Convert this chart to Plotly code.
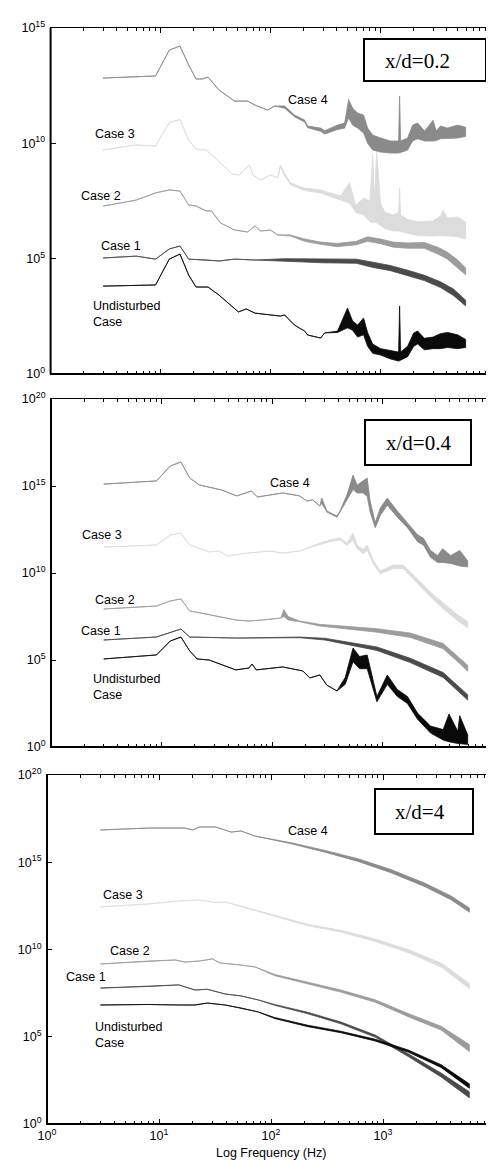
import plotly.graph_objects as go

# ---------------- data: (frequency Hz, log10 PSD upper, log10 PSD lower) ----------------
# Panel x/d = 0.2
P1_CASE4 = [(3, 12.83, 12.83), (9, 12.92, 12.92), (12, 14.04, 14.04), (15, 14.22, 14.22), (18, 13.39, 13.39),
            (21, 12.79, 12.79), (24, 12.79, 12.79), (27, 12.87, 12.87), (34, 12.31, 12.31), (47, 11.83, 11.83),
            (62, 11.83, 11.83), (72, 11.66, 11.66), (94, 11.44, 11.44), (109, 11.62, 11.62), (134, 11.62, 11.52),
            (165, 11.23, 11.15), (204, 11.01, 10.92), (217, 10.75, 10.68), (285, 10.66, 10.52), (310, 10.55, 10.40),
            (406, 10.79, 10.60), (471, 10.88, 10.66), (512, 11.90, 11.10), (556, 11.53, 10.79), (618, 11.31, 10.66),
            (700, 11.23, 10.45), (762, 10.66, 10.00), (846, 10.36, 9.71), (1000, 10.23, 9.62), (1233, 10.10, 9.58),
            (1458, 10.10, 9.58), (1489, 12.05, 9.58), (1520, 10.10, 9.60), (1760, 10.23, 9.71), (1954, 10.79, 10.10),
            (2170, 10.88, 10.20), (2512, 10.53, 10.10), (3000, 11.00, 10.10), (3200, 10.55, 10.12), (3510, 10.75, 10.20),
            (4064, 10.66, 10.20), (5012, 10.79, 10.23), (5929, 10.70, 10.30)]
P1_CASE3 = [(3, 9.71, 9.71), (6, 9.93, 9.93), (9, 9.88, 9.88), (12, 10.90, 10.90), (15, 11.03, 11.03),
            (18, 10.14, 10.14), (21, 9.75, 9.75), (26, 9.71, 9.71), (35, 9.15, 9.15), (45, 8.67, 8.67),
            (52, 8.63, 8.63), (58, 8.84, 8.84), (64, 9.06, 9.06), (69, 8.63, 8.63), (81, 8.41, 8.41),
            (100, 8.63, 8.63), (116, 8.50, 8.50), (123, 9.06, 9.00), (134, 8.71, 8.60), (152, 8.28, 8.20),
            (204, 8.06, 7.95), (285, 7.98, 7.85), (351, 7.85, 7.70), (433, 7.72, 7.55), (523, 8.30, 7.40),
            (593, 7.30, 7.00), (700, 7.63, 6.90), (800, 7.50, 6.60), (846, 9.49, 6.55), (880, 7.60, 6.60),
            (920, 9.70, 6.55), (960, 8.60, 6.50), (1000, 7.40, 6.45), (1100, 7.00, 6.30), (1300, 6.90, 6.20),
            (1458, 7.00, 6.20), (1489, 8.06, 6.20), (1520, 6.90, 6.20), (1760, 6.70, 6.10), (2170, 6.60, 6.00),
            (2970, 6.63, 5.98), (3500, 6.85, 6.00), (3700, 7.10, 6.00), (4064, 6.76, 5.98), (5012, 6.80, 5.95),
            (5929, 6.60, 5.85)]
P1_CASE2 = [(3, 7.28, 7.28), (6, 7.54, 7.54), (9, 7.85, 7.85), (12, 7.98, 7.98), (15, 7.93, 7.93),
            (18, 7.33, 7.33), (21, 7.28, 7.28), (26, 7.07, 7.07), (29, 7.07, 7.07), (35, 6.55, 6.55),
            (47, 6.24, 6.24), (62, 6.16, 6.16), (72, 6.42, 6.42), (81, 6.20, 6.20), (100, 6.24, 6.24),
            (116, 6.03, 6.03), (152, 6.03, 5.98), (204, 5.85, 5.75), (285, 5.72, 5.62), (400, 5.66, 5.52),
            (600, 5.75, 5.60), (760, 5.95, 5.75), (1000, 5.85, 5.65), (1300, 5.72, 5.50), (1760, 5.68, 5.45),
            (2500, 5.70, 5.45), (3300, 5.50, 5.20), (4000, 5.30, 5.00), (5000, 4.95, 4.60), (5929, 4.60, 4.30)]
P1_CASE1 = [(3, 5.03, 5.03), (6, 5.11, 5.11), (9, 4.98, 4.98), (12, 5.42, 5.42), (15, 5.55, 5.55),
            (18, 4.98, 4.98), (27, 4.94, 4.94), (34, 4.90, 4.90), (47, 4.98, 4.98), (72, 4.94, 4.94),
            (134, 5.00, 4.90), (300, 4.98, 4.82), (600, 4.98, 4.80), (850, 4.85, 4.62), (1230, 4.70, 4.48),
            (1760, 4.50, 4.26), (2500, 4.28, 4.05), (3500, 4.00, 3.75), (4600, 3.68, 3.40), (5929, 3.20, 2.95)]
P1_UNDIST = [(3, 3.81, 3.81), (9, 3.86, 3.86), (12, 4.98, 4.98), (15, 5.20, 5.20), (18, 4.29, 4.29),
             (21, 3.77, 3.77), (27, 3.77, 3.77), (34, 3.42, 3.42), (41, 3.08, 3.08), (51, 2.69, 2.69),
             (60, 2.82, 2.82), (72, 2.64, 2.64), (123, 2.51, 2.51), (134, 2.56, 2.56), (165, 2.12, 2.12),
             (204, 1.86, 1.86), (217, 1.69, 1.69), (285, 1.56, 1.56), (310, 1.78, 1.78), (406, 1.86, 1.80),
             (500, 2.86, 2.00), (556, 2.30, 1.90), (618, 2.12, 1.60), (700, 2.43, 1.70), (762, 1.80, 1.20),
             (846, 1.30, 0.90), (1000, 1.10, 0.82), (1233, 1.00, 0.65), (1458, 0.95, 0.56), (1489, 2.95, 0.56),
             (1520, 0.95, 0.60), (1760, 1.20, 0.75), (2000, 1.78, 1.20), (2170, 1.86, 1.30), (2500, 1.55, 1.05),
             (3000, 1.60, 1.10), (3500, 1.75, 1.10), (4064, 1.80, 1.15), (5012, 1.70, 1.10), (5929, 1.50, 1.15)]

# Panel x/d = 0.4
P2_CASE4 = [(3, 15.11, 15.11), (9, 15.29, 15.29), (12, 16.15, 16.15), (15, 16.38, 16.38), (18, 15.46, 15.46),
            (22, 15.06, 15.06), (35, 14.77, 14.77), (48, 14.43, 14.43), (65, 14.71, 14.71), (74, 14.37, 14.37),
            (95, 14.48, 14.48), (125, 14.60, 14.60),
            (178, 14.43, 14.43), (206, 14.14, 14.14), (234, 14.20, 14.20), (271, 13.85, 13.85), (282, 14.31, 14.00),
            (314, 13.56, 13.50), (387, 13.28, 13.20), (412, 13.56, 13.45), (477, 14.50, 14.20), (541, 15.63, 14.80),
            (589, 15.06, 14.60), (668, 15.29, 14.60), (727, 15.46, 14.40), (773, 14.14, 13.50), (859, 12.90, 12.60),
            (955, 13.74, 13.30), (1105, 14.31, 13.90), (1363, 13.56, 13.20), (1682, 12.90, 12.60), (2074, 12.20, 11.80),
            (2352, 12.00, 11.60), (2723, 11.30, 10.90), (3155, 11.00, 10.60), (3500, 11.40, 10.60), (4143, 11.00, 10.55),
            (5000, 11.30, 10.40), (5900, 10.70, 10.35)]
P2_CASE3 = [(3, 11.49, 11.49), (9, 11.61, 11.61), (12, 12.18, 12.18), (15, 12.30, 12.30), (18, 11.61, 11.61),
            (27, 11.21, 11.21), (33, 11.26, 11.26), (40, 10.98, 10.98), (62, 11.15, 11.15), (95, 11.26, 11.26),
            (125, 11.15, 11.15), (178, 11.26, 11.26),
            (230, 11.55, 11.50), (330, 11.90, 11.80), (412, 12.01, 11.90), (477, 11.72, 11.60), (541, 12.30, 11.90),
            (589, 11.60, 11.40), (668, 11.35, 11.10), (727, 11.61, 11.30), (830, 10.69, 10.50), (955, 10.11, 9.95),
            (1250, 10.46, 10.25), (1540, 10.46, 10.25), (1900, 9.89, 9.65), (2352, 9.31, 9.05), (2900, 8.74, 8.45),
            (3600, 8.25, 7.90), (4700, 7.65, 7.30), (5900, 7.20, 6.85)]
P2_CASE2 = [(3, 7.93, 7.93), (9, 8.10, 8.10), (12, 8.39, 8.39), (15, 8.51, 8.51), (18, 7.82, 7.82),
            (23, 7.70, 7.70), (47, 7.30, 7.30), (62, 7.24, 7.24), (82, 7.30, 7.30), (120, 7.41, 7.41),
            (128, 7.90, 7.50), (140, 7.50, 7.30), (178, 7.24, 7.20), (271, 7.05, 6.95), (437, 6.95, 6.80),
            (890, 6.80, 6.60), (1786, 6.55, 6.30), (3540, 5.95, 5.65), (5000, 5.10, 4.80), (5900, 4.70, 4.35)]
P2_CASE1 = [(3, 6.15, 6.15), (9, 6.32, 6.32), (15, 6.78, 6.78), (18, 6.32, 6.32), (50, 6.26, 6.26),
            (178, 6.32, 6.28), (300, 6.25, 6.15), (890, 5.75, 5.55), (1786, 5.10, 4.85), (3540, 4.28, 4.00),
            (5900, 3.00, 2.70)]
P2_UNDIST = [(3, 5.06, 5.06), (9, 5.29, 5.29), (12, 6.09, 6.09), (15, 6.32, 6.32), (18, 5.52, 5.52),
             (21, 5.06, 5.06), (27, 5.00, 5.00), (47, 4.43, 4.43), (62, 4.54, 4.54), (66, 4.77, 4.77),
             (72, 4.43, 4.43), (125, 4.60, 4.60), (190, 4.37, 4.37), (220, 3.97, 3.97), (271, 4.14, 4.14),
             (313, 3.56, 3.56), (387, 3.22, 3.22), (460, 4.00, 3.60), (541, 5.69, 4.90), (620, 5.20, 4.50),
             (727, 5.29, 4.50), (800, 4.20, 3.60), (890, 2.90, 2.60), (1105, 4.14, 3.60), (1363, 3.30, 2.90),
             (1682, 2.90, 2.50), (2074, 1.95, 1.60), (2723, 1.20, 0.80), (3540, 1.00, 0.40), (4000, 1.90, 0.30),
             (4800, 0.90, 0.20), (5000, 1.80, 0.20), (5900, 0.70, 0.15)]

# Panel x/d = 4
P3_CASE4 = [(3, 16.85, 16.85), (8, 16.96, 16.96), (17, 16.96, 16.96), (20, 16.85, 16.85), (23, 17.02, 17.02),
            (32, 17.02, 17.02), (44, 16.73, 16.73), (54, 16.79, 16.79), (72, 16.50, 16.50), (151, 16.12, 16.06),
            (303, 15.68, 15.58), (598, 15.20, 15.05), (1178, 14.58, 14.40), (2371, 13.80, 13.60),
            (4048, 13.07, 12.85), (5900, 12.38, 12.14)]
P3_CASE3 = [(3, 12.44, 12.44), (8, 12.61, 12.61), (15, 12.78, 12.78), (23, 12.84, 12.84), (32, 12.70, 12.70),
            (39, 12.72, 12.72), (54, 12.49, 12.49), (108, 11.95, 11.90), (213, 11.44, 11.36), (420, 11.10, 11.00),
            (850, 10.60, 10.46), (1680, 10.00, 9.82), (3310, 9.22, 9.00), (5900, 8.05, 7.75)]
P3_CASE2 = [(3, 9.17, 9.17), (8, 9.34, 9.34), (14, 9.40, 9.40), (17, 9.28, 9.28), (23, 9.34, 9.34),
            (30, 9.46, 9.46), (35, 9.23, 9.23), (54, 9.11, 9.11), (72, 9.00, 9.00), (108, 8.57, 8.50),
            (213, 8.12, 8.03), (420, 7.68, 7.56), (850, 7.12, 6.98), (1680, 6.33, 6.15), (3310, 5.60, 5.38),
            (4500, 5.05, 4.75), (5900, 4.55, 4.15)]
P3_CASE1 = [(3, 7.79, 7.79), (8, 7.88, 7.88), (15, 7.97, 7.97), (21, 7.68, 7.68), (27, 7.72, 7.72),
            (39, 7.45, 7.45), (54, 7.34, 7.34), (77, 7.11, 7.11), (108, 6.85, 6.80), (213, 6.40, 6.32),
            (422, 5.84, 5.74), (850, 5.10, 4.98), (1680, 4.03, 3.87), (3300, 2.92, 2.70), (5900, 1.85, 1.50)]
P3_UNDIST = [(3, 6.82, 6.82), (8, 6.85, 6.85), (15, 6.82, 6.82), (21, 6.82, 6.82), (27, 6.93, 6.93),
             (39, 6.82, 6.82), (54, 6.65, 6.65), (77, 6.42, 6.42), (108, 6.10, 6.04), (213, 5.66, 5.58),
             (422, 5.31, 5.23), (850, 4.86, 4.76), (1680, 4.24, 4.12), (3300, 3.40, 3.24), (5900, 2.30, 2.05)]

PANEL_LABELS = ["x/d=0.2", "x/d=0.4", "x/d=4"]
CASE_NAMES = ["Case 4", "Case 3", "Case 2", "Case 1", "Undisturbed<br>Case"]
X_TICKS = [1, 10, 100, 1000, 10000]
X_TICK_TEXT = ["10<sup>0</sup>", "10<sup>1</sup>", "10<sup>2</sup>", "10<sup>3</sup>", "10<sup>4</sup>"]
Y_EXP_1 = [0, 5, 10, 15]
Y_EXP_23 = [0, 5, 10, 15, 20]
X_LABEL = "Log Frequency (Hz)"

# ---------------- styling ----------------
W, H = 494, 1160
COLORS = ["#8a8a8a", "#dcdcdc", "#9c9c9c", "#4a4a4a", "#0a0a0a"]
SANS = "Liberation Sans, Arial, sans-serif"
SERIF = "Liberation Serif, Times New Roman, serif"

# panel pixel boxes (left, right, top, bottom)
BOXES = [(42.6, 482.6, 20, 366), (43, 485, 391, 739), (39, 487, 767, 1116)]


def pxx(x):
    return x / W


def pxy(y):
    return 1 - y / H


def polygon(series):
    f = [float(p[0]) for p in series]
    hi = [10.0 ** p[1] for p in series]
    lo = [10.0 ** p[2] for p in series]
    return f + f[::-1], hi + lo[::-1]


fig = go.Figure()
panels = [
    [P1_CASE4, P1_CASE3, P1_CASE2, P1_CASE1, P1_UNDIST],
    [P2_CASE4, P2_CASE3, P2_CASE2, P2_CASE1, P2_UNDIST],
    [P3_CASE4, P3_CASE3, P3_CASE2, P3_CASE1, P3_UNDIST],
]
for i, series_list in enumerate(panels):
    xa = "x" if i == 0 else f"x{i + 1}"
    ya = "y" if i == 0 else f"y{i + 1}"
    for j in [1, 2, 0, 3, 4]:
        xs, ys = polygon(series_list[j])
        fig.add_trace(go.Scatter(x=xs, y=ys, xaxis=xa, yaxis=ya, mode="lines",
                                 fill="toself", fillcolor=COLORS[j],
                                 line=dict(color=COLORS[j], width=0.8), hoverinfo="skip",
                                 showlegend=False))

minor_vals = [float(m * 10 ** k) for k in range(4) for m in range(2, 10)]
layout = dict(width=W, height=H, margin=dict(l=0, r=0, t=0, b=0),
              paper_bgcolor="white", plot_bgcolor="white", showlegend=False)

for i, (l, r, t, b) in enumerate(BOXES):
    sx = "" if i == 0 else str(i + 1)
    yexp = Y_EXP_1 if i == 0 else Y_EXP_23
    layout["xaxis" + sx] = dict(
        type="log", range=[0, 4], domain=[pxx(l), pxx(r)], anchor="y" + sx,
        showgrid=False, zeroline=False, showline=True, linecolor="black", linewidth=1,
        mirror="allticks", ticks="inside", ticklen=5, tickwidth=1, tickcolor="black",
        tickmode="array", tickvals=[float(v) for v in X_TICKS], ticktext=X_TICK_TEXT,
        showticklabels=(i == 2), tickfont=dict(family=SANS, size=12.5, color="black"),
        minor=dict(ticks="inside", ticklen=3, tickwidth=1, tickcolor="black",
                   tickmode="array", tickvals=minor_vals),
        automargin=False)
    layout["yaxis" + sx] = dict(
        type="log", range=[0, yexp[-1]], domain=[pxy(b), pxy(t)], anchor="x" + sx,
        showgrid=False, zeroline=False, showline=True, linecolor="black", linewidth=1,
        mirror="allticks", ticks="inside", ticklen=5, tickwidth=1, tickcolor="black",
        tickmode="array", tickvals=[10.0 ** e for e in yexp],
        ticktext=[f"10<sup>{e}</sup>" for e in yexp],
        tickfont=dict(family=SANS, size=12.5, color="black"), ticklabelstandoff=2,
        automargin=False)

fig.update_layout(**layout)

shapes = []
for (l, r, t, b) in BOXES:
    shapes.append(dict(type="line", xref="paper", yref="paper", x0=pxx(l), x1=pxx(r), y0=pxy(b), y1=pxy(b),
                       line=dict(color="black", width=2)))
    shapes.append(dict(type="line", xref="paper", yref="paper", x0=pxx(l), x1=pxx(l), y0=pxy(b), y1=pxy(t),
                       line=dict(color="black", width=2)))

TAG_BOXES = [(356, 478, 31, 73), (357, 463, 412, 457), (367, 465, 781, 826)]
TAG_TEXT_POS = [(409, 53), (410, 435), (412, 804)]
annotations = []
for (l, r, t, b), (tx, ty), label in zip(TAG_BOXES, TAG_TEXT_POS, PANEL_LABELS):
    shapes.append(dict(type="rect", xref="paper", yref="paper", x0=pxx(l), x1=pxx(r), y0=pxy(b), y1=pxy(t),
                       line=dict(color="black", width=2), fillcolor="rgba(0,0,0,0)"))
    annotations.append(dict(xref="paper", yref="paper", x=pxx(tx), y=pxy(ty), text=label, showarrow=False,
                            xanchor="center", yanchor="middle", font=dict(family=SERIF, size=21, color="black")))

CASE_LABEL_POS = [
    [(300, 92), (107, 126), (93, 188), (113, 238), (83, 306)],
    [(282, 475), (94, 527), (107, 592), (93, 623), (83, 679)],
    [(300, 823), (115, 887), (122, 943), (78, 969), (85, 1027)],
]
for pos_list in CASE_LABEL_POS:
    for k, (x, y) in enumerate(pos_list):
        multi = k == 4
        annotations.append(dict(xref="paper", yref="paper", x=pxx(x), y=pxy(y), text=CASE_NAMES[k],
                                showarrow=False, xanchor="left" if multi else "center", yanchor="middle",
                                align="left", font=dict(family=SANS, size=12.5, color="black")))

annotations.append(dict(xref="paper", yref="paper", x=pxx(263), y=pxy(1145), text=X_LABEL, showarrow=False,
                        xanchor="center", yanchor="middle", font=dict(family=SANS, size=12.5, color="black")))

fig.update_layout(shapes=shapes, annotations=annotations)
fig.write_html("out.html")
